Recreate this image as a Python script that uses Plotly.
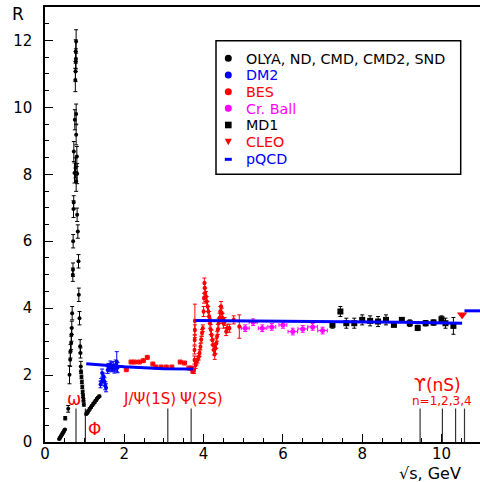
import plotly.graph_objects as go

# ---------------- data ----------------
# OLYA, ND, CMD, CMD2, SND (low energy)
olya_x = [0.36, 0.38, 0.40, 0.42, 0.44, 0.46, 0.48, 0.50,
          0.51, 0.585,
          0.618, 0.635, 0.643, 0.66, 0.668, 0.676, 0.685, 0.702, 0.706, 0.71, 0.719, 0.724,
          0.727, 0.744, 0.752, 0.765, 0.77, 0.775, 0.775, 0.78, 0.785,
          0.786, 0.786, 0.769, 0.803, 0.811, 0.786,
          0.81, 0.828, 0.845, 0.853, 0.87, 0.887, 0.895, 0.903,
          0.91, 0.92, 0.93, 0.94, 0.95, 0.96, 0.97, 0.98,
          1.04, 1.06, 1.08, 1.10, 1.13, 1.16, 1.19, 1.22, 1.25, 1.28, 1.31, 1.34, 1.37]
olya_y = [0.09, 0.13, 0.17, 0.21, 0.25, 0.29, 0.33, 0.37,
          0.71, 0.99,
          2.01, 2.46, 2.71, 2.96, 3.21, 3.41, 3.85, 5.0, 5.15, 6.0, 6.96, 7.16,
          8.68, 8.04, 9.63, 10.82, 11.07, 11.37, 11.67, 11.45, 11.97,
          9.8, 9.18, 8.19, 8.53, 8.02, 7.79,
          6.79, 6.29, 5.40, 4.40, 3.70, 2.86, 2.66, 2.26,
          2.10, 1.95, 1.80, 1.65, 1.50, 1.38, 1.25, 1.12,
          0.84, 0.87, 0.90, 0.94, 0.99, 1.04, 1.09, 1.14, 1.19, 1.24, 1.29, 1.33, 1.37]
olya_err = [0.02] * 8 + [0.05, 0.1] + \
           [0.27, 0.2, 0.2, 0.2, 0.2, 0.2, 0.2, 0.2, 0.2, 0.2, 0.25, 0.2] + \
           [0.3, 0.3, 0.3, 0.35, 0.3, 0.3, 0.35, 0.3, 0.35] + \
           [0.3, 0.3, 0.3, 0.3, 0.3, 0.3] + \
           [0.2, 0.2, 0.2, 0.2, 0.2, 0.2, 0.15, 0.15] + \
           [0.05] * 8 + [0.03] * 13

# DM2
dm2_x = [1.40, 1.42, 1.44, 1.46, 1.48, 1.50, 1.52, 1.54, 1.58, 1.60, 1.62, 1.65,
         1.68, 1.70, 1.72, 1.75, 1.78, 1.81, 1.83]
dm2_y = [1.72, 1.80, 2.06, 1.88, 1.96, 1.80, 1.68, 1.62, 2.15, 2.25, 2.20, 2.30,
         2.25, 2.20, 2.28, 2.18, 2.30, 2.40, 2.22]
dm2_err = [0.1, 0.1, 0.12, 0.12, 0.1, 0.12, 0.12, 0.12, 0.1, 0.1, 0.1, 0.12,
           0.12, 0.1, 0.12, 0.12, 0.15, 0.3, 0.15]

# BES
bes_x = [2.05, 2.17, 2.26, 2.38, 2.48, 2.58, 2.72, 2.80, 2.93, 3.06, 3.20, 3.41, 3.52, 3.63, 3.69, 3.73,
         3.76, 3.77, 3.77, 3.775, 3.78, 3.78, 3.80, 3.82, 3.85, 3.88, 3.90, 3.92, 3.94, 3.96, 3.98,
         4.00, 4.01, 4.02, 4.03, 4.04, 4.06, 4.08, 4.10, 4.12, 4.14, 4.16, 4.18, 4.20, 4.22, 4.24,
         4.26, 4.28, 4.30, 4.32, 4.34, 4.36, 4.38, 4.40, 4.42, 4.44, 4.46, 4.48, 4.50, 4.53, 4.57,
         4.60, 4.65, 4.76, 4.90]
bes_y = [2.16, 2.39, 2.39, 2.39, 2.43, 2.53, 2.33, 2.24, 2.24, 2.24, 2.24, 2.39, 2.36, 2.21, 2.21, 2.11,
         2.15, 2.45, 2.75, 3.05, 3.35, 3.62, 2.30, 2.40, 2.46, 2.55, 2.66, 2.85, 3.06, 3.26, 3.40,
         3.90, 4.30, 4.75, 4.60, 4.45, 4.35, 4.20, 4.05, 3.90, 3.75, 3.55, 3.36, 3.20, 3.05, 2.90,
         2.75, 2.62, 2.80, 2.95, 3.16, 3.36, 3.55, 3.70, 3.90, 4.05, 3.85, 3.70, 3.55, 3.60, 3.30,
         3.40, 3.40, 3.65, 3.45]
bes_err = [0.06] * 16 + [0.1, 0.12, 0.12, 0.15, 0.15, 0.5] + [0.1] * 9 + [0.15] * 28 + \
          [0.12, 0.12, 0.12, 0.12, 0.12, 0.35]
bes_xerr = [0.05] * 16 + [0.02] * 49

# Crystal Ball
cb_x = [5.05, 5.25, 5.48, 5.72, 6.0, 6.25, 6.5, 6.75, 7.0]
cb_y = [3.40, 3.58, 3.40, 3.44, 3.50, 3.30, 3.38, 3.44, 3.33]
cb_err = [0.1, 0.1, 0.1, 0.1, 0.1, 0.1, 0.1, 0.1, 0.1]
cb_xerr = [0.1, 0.1, 0.1, 0.1, 0.1, 0.12, 0.12, 0.12, 0.12]

# MD1
md1_x = [7.25, 7.45, 7.6, 7.8, 8.0, 8.2, 8.4, 8.6, 8.8, 9.0, 9.2, 9.4, 9.6, 9.8, 10.0, 10.1, 10.3]
md1_y = [3.50, 3.90, 3.55, 3.55, 3.65, 3.62, 3.60, 3.65, 3.50, 3.65, 3.55, 3.41, 3.55, 3.57, 3.67, 3.55, 3.47]
md1_err = [0.1, 0.15, 0.15, 0.15, 0.15, 0.15, 0.15, 0.15, 0.05, 0.05, 0.1, 0.08, 0.08, 0.08, 0.1, 0.15, 0.25]

# CLEO
cleo_x = [10.52]
cleo_y = [3.80]

# pQCD segments
pqcd_x = [1.04, 2.0, 3.0, 3.73, None, 3.79, 5.0, 7.0, 9.0, 10.52, None, 10.58, 11.0]
pqcd_y = [2.34, 2.25, 2.19, 2.18, None, 3.63, 3.62, 3.60, 3.58, 3.55, None, 3.92, 3.92]

# resonance markers
res_x = [0.782, 1.019, 3.097, 3.686, 9.460, 10.023, 10.355, 10.580]
res_h = 1.0

legend_labels = ["OLYA, ND, CMD, CMD2, SND", "DM2", "BES", "Cr. Ball", "MD1", "CLEO", "pQCD"]
legend_colors = ["#000000", "#0000ff", "#ff0000", "#ff00ff", "#000000", "#ff0000", "#0000ff"]
legend_symbols = ["circle", "circle", "circle", "circle", "square", "triangle", "dash"]

FONT = "DejaVu Sans"

# ---------------- figure ----------------
fig = go.Figure()

res_lx, res_ly = [], []
for r in res_x:
    res_lx += [r, r, None]
    res_ly += [0, res_h, None]
fig.add_trace(go.Scatter(x=res_lx, y=res_ly, mode="lines",
                         line=dict(color="#333333", width=1.2), hoverinfo="skip"))


def pts(x, y, ey, color, symbol="circle", size=4, ex=None, name=""):
    tr = go.Scatter(x=x, y=y, mode="markers", name=name,
                    marker=dict(color=color, size=size, symbol=symbol),
                    error_y=dict(type="data", array=ey, color=color, thickness=1, width=2))
    if ex is not None:
        tr.error_x = dict(type="data", array=ex, color=color, thickness=1, width=2)
    return tr


fig.add_trace(pts(olya_x, olya_y, olya_err, "#000000", name=legend_labels[0]))
fig.add_trace(pts(dm2_x, dm2_y, dm2_err, "#0000ff", name=legend_labels[1]))
fig.add_trace(pts(bes_x, bes_y, bes_err, "#ff0000", size=4, ex=bes_xerr, name=legend_labels[2]))
fig.add_trace(pts(cb_x, cb_y, cb_err, "#ff00ff", size=5, ex=cb_xerr, name=legend_labels[3]))
fig.add_trace(pts(md1_x, md1_y, md1_err, "#000000", symbol="square", size=6, name=legend_labels[4]))
fig.add_trace(go.Scatter(x=cleo_x, y=cleo_y, mode="markers", name=legend_labels[5],
                         marker=dict(color="#ff0000", size=9, symbol="triangle-down")))
fig.add_trace(go.Scatter(x=pqcd_x, y=pqcd_y, mode="lines", name=legend_labels[6],
                         line=dict(color="#0000ff", width=3)))

# plot area geometry (pixels)
L, R, T, B, W, H = 45, 0, 7, 40, 480, 482
PW, PH = W - L - R, H - T - B


def fx(p):
    return (p - L) / PW


def fy(p):
    return (H - B - p) / PH


shapes = []
annotations = []

# manual legend
shapes.append(dict(type="rect", xref="paper", yref="paper",
                   x0=fx(216), x1=fx(460.7), y0=fy(174.3), y1=fy(40.7),
                   line=dict(color="#000000", width=1.5), fillcolor="white", layer="above"))
row0, dy, sx, tx = 58.3, 16.67, 228.3, 244
for i, (lab, col, sym) in enumerate(zip(legend_labels, legend_colors, legend_symbols)):
    cy = row0 + i * dy
    if sym == "circle":
        r = 3.5
        shapes.append(dict(type="circle", xref="paper", yref="paper",
                           x0=fx(sx - r), x1=fx(sx + r), y0=fy(cy + r), y1=fy(cy - r),
                           fillcolor=col, line=dict(color=col, width=0), layer="above"))
    elif sym == "square":
        r = 3.3
        shapes.append(dict(type="rect", xref="paper", yref="paper",
                           x0=fx(sx - r), x1=fx(sx + r), y0=fy(cy + r), y1=fy(cy - r),
                           fillcolor=col, line=dict(color=col, width=0), layer="above"))
    elif sym == "triangle":
        p = "M {} {} L {} {} L {} {} Z".format(fx(sx - 3.5), fy(cy - 3), fx(sx + 3.5), fy(cy - 3),
                                               fx(sx), fy(cy + 3.5))
        shapes.append(dict(type="path", xref="paper", yref="paper", path=p,
                           fillcolor=col, line=dict(color=col, width=0), layer="above"))
    else:
        shapes.append(dict(type="line", xref="paper", yref="paper",
                           x0=fx(sx - 3.5), x1=fx(sx + 3.5), y0=fy(cy + 1), y1=fy(cy + 1),
                           line=dict(color=col, width=3), layer="above"))
    annotations.append(dict(xref="paper", yref="paper", x=fx(tx), y=fy(cy + 0.5),
                            xanchor="left", yanchor="middle", showarrow=False, text=lab,
                            font=dict(family=FONT, size=14.3, color=col)))

# resonance labels
red = "#ff0000"
for txt, x, y, s in [("ω", 0.72, 1.30, 17), ("Φ", 1.25, 0.39, 17),
                     ("J/Ψ(1S)", 2.63, 1.28, 15), ("Ψ(2S)", 3.94, 1.28, 15),
                     ("ϒ(nS)", 9.90, 1.71, 17), ("n=1,2,3,4", 10.0, 1.24, 12)]:
    annotations.append(dict(x=x, y=y, xref="x", yref="y", text=txt, showarrow=False,
                            xanchor="center", yanchor="middle",
                            font=dict(family=FONT, size=s, color=red)))

# axis titles
annotations.append(dict(xref="paper", yref="paper", x=fx(18), y=fy(14), text="R",
                        showarrow=False, xanchor="center", yanchor="middle",
                        font=dict(family=FONT, size=17, color="black")))
annotations.append(dict(xref="paper", yref="paper", x=fx(397), y=fy(473), text="√s, GeV",
                        showarrow=False, xanchor="left", yanchor="middle",
                        font=dict(family=FONT, size=16, color="black")))

fig.update_layout(
    template="none",
    width=W, height=H, margin=dict(l=L, r=R, t=T, b=B, pad=0, autoexpand=False),
    paper_bgcolor="white", plot_bgcolor="white", showlegend=False,
    shapes=shapes, annotations=annotations,
    xaxis=dict(range=[0, PW / 39.65], tick0=0, dtick=2, ticks="inside", ticklen=8, tickwidth=1,
               tickcolor="black", minor=dict(dtick=0.5, ticks="inside", ticklen=4, tickcolor="black"),
               showline=True, linecolor="black", linewidth=1.5, mirror=True,
               showgrid=False, zeroline=False, automargin=False,
               tickfont=dict(family=FONT, size=15, color="black"), ticklabelstandoff=-3),
    yaxis=dict(range=[0, 13.0], tick0=0, dtick=2, ticks="inside", ticklen=8, tickwidth=1,
               tickcolor="black", minor=dict(dtick=0.5, ticks="inside", ticklen=4, tickcolor="black"),
               showline=True, linecolor="black", linewidth=1.5, mirror=False,
               showgrid=False, zeroline=False, automargin=False,
               tickfont=dict(family=FONT, size=15, color="black"), ticklabelstandoff=8),
)

fig.write_html("out.html", config={"displayModeBar": False},
               post_script="document.body.style.margin='0';")
